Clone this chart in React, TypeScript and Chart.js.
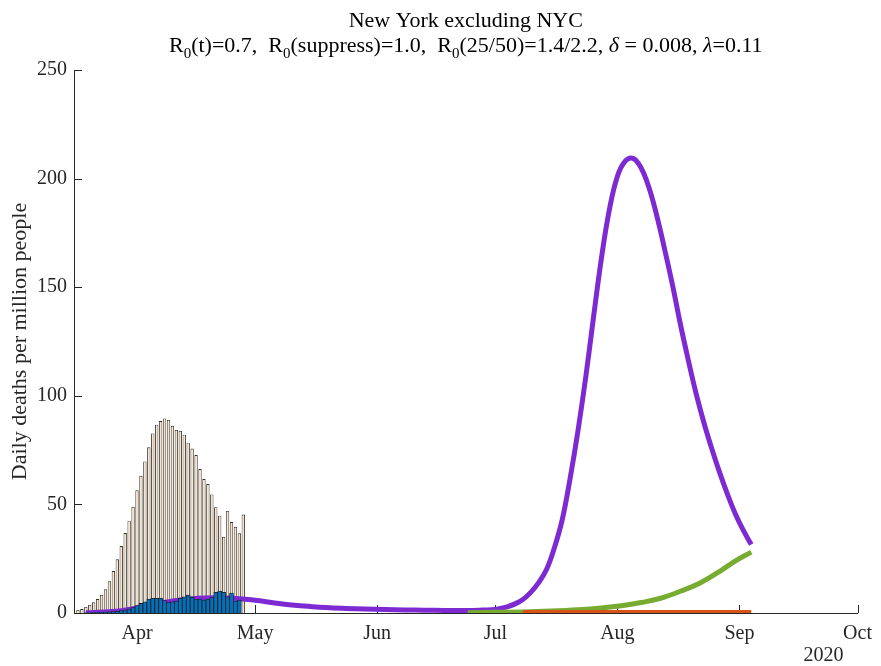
import React, { useEffect, useRef } from 'react';
import { Chart, registerables } from 'chart.js';

Chart.register(...registerables);

const SERIF = "'Liberation Serif', 'Times New Roman', Times, serif";
const AXIS_COLOR = '#262626';

// Axis layout (x values are day-of-year in 2020)
const xMin = 76;
const xMax = 275;
const monthTickDays = [92, 122, 153, 183, 214, 245, 275];
const monthTickLabels = ['Apr', 'May', 'Jun', 'Jul', 'Aug', 'Sep', 'Oct'];
const yTicks = [0, 50, 100, 150, 200, 250];
const yearLabel = '2020';

const titleLine1 = 'New York excluding NYC';

// Observed daily deaths per million, one bar per day starting Mar 17
const firstBarDay = 77;
const totalDeaths = [
  1.4, 1.8, 2.8, 3.7, 4.9, 6.4, 8.3, 10.9, 14.6, 19.3, 24.7, 30.8, 36.8, 42.5,
  48.9, 56.5, 63.2, 69.8, 76.3, 82.7, 86.7, 88.4, 89.6, 88.9, 86.2, 84.3, 83.9,
  82.1, 78.4, 75.7, 72.7, 66.3, 61.7, 59.4, 54.6, 48.7, 44.8, 35.1, 47.0, 41.9,
  39.7, 36.7, 45.3,
];
const regionDeaths = [
  0, 0, 0.1, 0.1, 0.2, 0.2, 0.3, 0.4, 0.5, 0.6, 0.8, 1.1, 1.4, 1.8, 2.5, 3.4,
  4.4, 5.2, 6.4, 6.8, 6.8, 6.8, 5.7, 4.8, 5.2, 5.5, 6.8, 7.5, 8.3, 7.2, 6.4,
  6.4, 6.0, 6.4, 7.1, 9.5, 10.1, 9.5, 7.5, 9.2, 5.5, 6.0,
];

// Model projections
const relaxDays = [
  79, 82, 85, 88, 91, 94, 97, 100, 103, 106, 109, 112, 115, 118, 121, 124, 128,
  132, 136, 140, 145, 150, 155, 160, 165, 170, 175, 179, 182, 184, 186, 188,
  190, 192, 194, 196, 198, 200, 202, 204, 206, 208, 210, 212, 214, 216, 218,
  220, 222, 224, 226, 228, 230, 232, 234, 236, 238, 240, 242, 244, 246, 248,
];
const relaxDeaths = [
  0.1, 0.3, 0.6, 1.1, 2.0, 3.1, 4.2, 5.2, 6.0, 6.6, 6.9, 7.0, 6.9, 6.6, 6.1,
  5.4, 4.4, 3.6, 3.0, 2.5, 2.1, 1.8, 1.6, 1.4, 1.3, 1.2, 1.2, 1.3, 1.5, 2.0,
  2.8, 4.2, 6.2, 9.5, 14, 20, 30, 43, 62, 84, 109, 137, 164, 186, 201, 208,
  209.3, 205, 196, 183, 167.5, 151, 133, 116.5, 101, 87.5, 75.5, 64.5, 54.5,
  45.5, 38, 31.5,
];

const partialDays = [176, 183, 190, 197, 204, 210, 215, 220, 225, 230, 235, 240, 244, 248];
const partialDeaths = [0.1, 0.3, 0.5, 0.9, 1.5, 2.3, 3.3, 4.8, 6.8, 10.0, 13.8, 19.2, 24.0, 28.0];

const suppressDays = [190, 205, 220, 235, 248];
const suppressDeaths = [0.2, 0.2, 0.2, 0.2, 0.2];

type Seg = { text: string; kind: 'n' | 'sub' | 'it' };
const titleLine2: Seg[] = [
  { text: 'R', kind: 'n' },
  { text: '0', kind: 'sub' },
  { text: '(t)=0.7,  R', kind: 'n' },
  { text: '0', kind: 'sub' },
  { text: '(suppress)=1.0,  R', kind: 'n' },
  { text: '0', kind: 'sub' },
  { text: '(25/50)=1.4/2.2, ', kind: 'n' },
  { text: 'δ', kind: 'it' },
  { text: ' = 0.008, ', kind: 'n' },
  { text: 'λ', kind: 'it' },
  { text: '=0.11', kind: 'n' },
];

const segFont = (kind: Seg['kind']) =>
  kind === 'sub' ? `15px ${SERIF}` : kind === 'it' ? `italic 22px ${SERIF}` : `22px ${SERIF}`;

const inwardTicks = {
  id: 'inwardTicks',
  beforeDatasetsDraw(chart: any) {
    const { ctx, chartArea, scales } = chart;
    const { left, bottom } = chartArea;
    ctx.save();
    ctx.strokeStyle = AXIS_COLOR;
    ctx.lineWidth = 1;
    ctx.beginPath();
    for (const d of monthTickDays) {
      const px = Math.round(scales.x.getPixelForValue(d)) + 0.5;
      ctx.moveTo(px, bottom);
      ctx.lineTo(px, bottom - 8);
    }
    for (const v of yTicks) {
      const py = Math.round(scales.y.getPixelForValue(v)) + 0.5;
      ctx.moveTo(left, py);
      ctx.lineTo(left + 8, py);
    }
    ctx.stroke();
    ctx.restore();
  },
};

const titleAndYear = {
  id: 'titleAndYear',
  afterDraw(chart: any) {
    const { ctx, chartArea } = chart;
    const cx = (chartArea.left + chartArea.right) / 2;
    ctx.save();
    ctx.fillStyle = '#000';
    ctx.textBaseline = 'alphabetic';
    ctx.textAlign = 'center';
    ctx.font = `22px ${SERIF}`;
    ctx.fillText(titleLine1, cx, 27);

    ctx.textAlign = 'left';
    let total = 0;
    for (const s of titleLine2) {
      ctx.font = segFont(s.kind);
      total += ctx.measureText(s.text).width;
    }
    let x = cx - total / 2;
    const base = 52;
    for (const s of titleLine2) {
      ctx.font = segFont(s.kind);
      ctx.fillText(s.text, x, s.kind === 'sub' ? base + 6 : base);
      x += ctx.measureText(s.text).width;
    }

    ctx.fillStyle = AXIS_COLOR;
    ctx.font = `20px ${SERIF}`;
    ctx.textAlign = 'center';
    ctx.textBaseline = 'middle';
    ctx.fillText(yearLabel, chartArea.right - 34, 656);
    ctx.restore();
  },
};

export default function App() {
  const canvasRef = useRef<HTMLCanvasElement | null>(null);

  useEffect(() => {
    document.body.style.margin = '0';
    const canvas = canvasRef.current;
    if (!canvas) return;

    const barDays = totalDeaths.map((_, i) => firstBarDay + i);
    const tickFont = { family: SERIF, size: 20 };
    const curve = { pointRadius: 0, tension: 0.4, borderWidth: 5, borderCapStyle: 'butt', borderJoinStyle: 'round' };

    const chart = new Chart(canvas, {
      type: 'bar',
      data: {
        datasets: [
          {
            type: 'bar',
            data: barDays.map((d, i) => ({ x: d, y: totalDeaths[i] })),
            backgroundColor: '#F9E4C9',
            borderColor: '#2E2E2E',
            borderWidth: 0.9,
            barPercentage: 0.85,
            categoryPercentage: 1,
            grouped: false,
            order: 4,
          } as any,
          {
            type: 'line',
            data: relaxDays.map((d, i) => ({ x: d, y: relaxDeaths[i] })),
            borderColor: '#7E2AD3',
            ...curve,
            order: 3,
          } as any,
          {
            type: 'line',
            data: partialDays.map((d, i) => ({ x: d, y: partialDeaths[i] })),
            borderColor: '#77AC30',
            ...curve,
            order: 2,
          } as any,
          {
            type: 'line',
            data: suppressDays.map((d, i) => ({ x: d, y: suppressDeaths[i] })),
            borderColor: '#D95319',
            ...curve,
            order: 1,
          } as any,
          {
            type: 'bar',
            data: barDays.slice(0, regionDeaths.length).map((d, i) => ({ x: d, y: regionDeaths[i] })),
            backgroundColor: '#0072BD',
            borderColor: '#1A1A1A',
            borderWidth: 0.8,
            barPercentage: 1,
            categoryPercentage: 1,
            grouped: false,
            order: 0,
          } as any,
        ],
      },
      options: {
        animation: false,
        responsive: false,
        devicePixelRatio: 1,
        layout: { padding: { left: 0, right: 18, top: 70, bottom: 0 } },
        plugins: {
          legend: { display: false },
          tooltip: { enabled: false },
          title: { display: false },
        },
        scales: {
          x: {
            type: 'linear',
            min: xMin,
            max: xMax,
            offset: false,
            grid: { display: false, drawTicks: false, offset: false },
            border: { display: true, color: AXIS_COLOR, width: 1 },
            afterBuildTicks: (s: any) => {
              s.ticks = monthTickDays.map((v) => ({ value: v }));
            },
            afterFit: (s: any) => {
              s.height = 53;
            },
            ticks: {
              autoSkip: false,
              maxRotation: 0,
              padding: 9,
              color: AXIS_COLOR,
              font: tickFont,
              callback: (v: any) => {
                const k = monthTickDays.indexOf(Number(v));
                return k >= 0 ? monthTickLabels[k] : '';
              },
            },
          },
          y: {
            type: 'linear',
            min: 0,
            max: 250,
            grid: { display: false, drawTicks: false },
            border: { display: true, color: AXIS_COLOR, width: 1 },
            afterBuildTicks: (s: any) => {
              s.ticks = yTicks.map((v) => ({ value: v }));
            },
            afterFit: (s: any) => {
              s.width = 74;
            },
            ticks: { padding: 7, color: AXIS_COLOR, font: tickFont },
            title: {
              display: true,
              text: 'Daily deaths per million people',
              color: AXIS_COLOR,
              font: { family: SERIF, size: 22 },
              padding: { top: 7, bottom: 0 },
            },
          },
        },
      } as any,
      plugins: [inwardTicks, titleAndYear],
    });

    return () => chart.destroy();
  }, []);

  return <canvas ref={canvasRef} width={881} height={666} style={{ display: 'block' }} />;
}
